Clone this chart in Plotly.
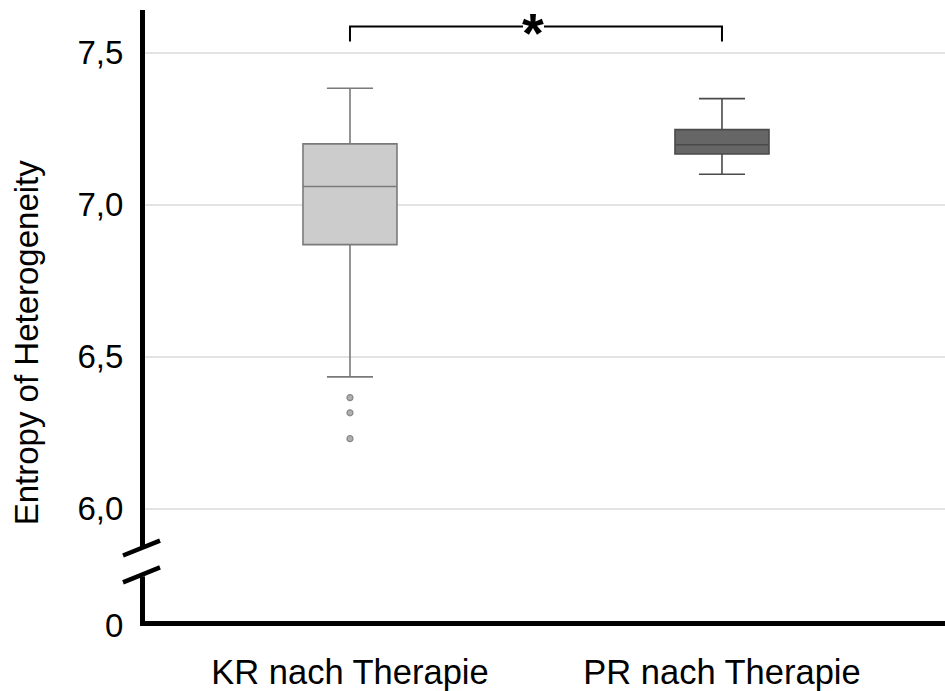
import plotly.graph_objects as go

# ---------------- data ----------------
categories = ["KR nach Therapie", "PR nach Therapie"]
lower_whisker = [6.434, 7.100]
q1_values = [6.869, 7.167]
medians = [7.060, 7.197]
q3_values = [7.200, 7.247]
upper_whisker = [7.383, 7.349]
kr_outliers = [6.366, 6.316, 6.231]

y_tick_values = [6.0, 6.5, 7.0, 7.5]
y_tick_labels = ["6,0", "6,5", "7,0", "7,5"]
break_label = "0"

bracket_low = 7.537
bracket_high = 7.586

box_fills = ["#cccccc", "#666666"]
box_lines = ["#7a7a7a", "#4a4a4a"]

# ---------------- figure ----------------
FONT = "Liberation Sans, Arial, sans-serif"
fig = go.Figure()

for i, cat in enumerate(categories):
    fig.add_trace(go.Box(
        x=[cat],
        q1=[q1_values[i]], median=[medians[i]], q3=[q3_values[i]],
        lowerfence=[lower_whisker[i]], upperfence=[upper_whisker[i]],
        fillcolor=box_fills[i],
        line=dict(color=box_lines[i], width=1.6),
        width=0.2527, whiskerwidth=0.49,
        boxpoints=False, showlegend=False, hoverinfo="skip",
    ))

fig.add_trace(go.Scatter(
    x=[categories[0]] * len(kr_outliers), y=kr_outliers,
    mode="markers",
    marker=dict(symbol="circle", size=6, color="#b0b0b0",
                line=dict(color="#888888", width=1.2)),
    showlegend=False, hoverinfo="skip",
))

# significance bracket
fig.add_trace(go.Scatter(
    x=[categories[0], categories[0], categories[1], categories[1]],
    y=[bracket_low, bracket_high, bracket_high, bracket_low],
    mode="lines", line=dict(color="black", width=2),
    showlegend=False, hoverinfo="skip",
))

W, H = 945, 691
L, R, T, B = 145, 0, 10, 65
pw, ph = W - L - R, H - T - B
# 7.5 -> 53 px, 6.0 -> 513 px
PPU = (513 - 53) / 1.5
Y_MAX = 7.5 + (53 - T) / PPU
Y_MIN = 7.5 - ((H - B) - 53) / PPU


def px_x(p):
    return (p - L) / pw


def px_y(p):
    return (H - B - p) / ph


# asterisk
fig.add_annotation(
    x=0.5, xref="x", y=bracket_high, yref="y",
    text="<b>*</b>", showarrow=False,
    font=dict(family=FONT, size=56, color="black"),
    xanchor="center", yanchor="middle", yshift=-6, xshift=-3,
)

# y-axis title
fig.add_annotation(
    x=px_x(26), xref="paper", y=px_y(345), yref="paper",
    text="Entropy of Heterogeneity", textangle=-90, showarrow=False,
    font=dict(family=FONT, size=33, color="black"),
    xanchor="center", yanchor="middle",
)

# "0" label below the axis break
fig.add_annotation(
    x=0, xref="paper", y=Y_MIN, yref="y",
    text=break_label, showarrow=False,
    font=dict(family=FONT, size=33, color="black"),
    xanchor="right", yanchor="middle", xshift=-20, yshift=-4,
)

# axis break + patch behind asterisk
shapes = [
    dict(type="rect", xref="paper", yref="paper",
         x0=px_x(130), x1=px_x(155), y0=px_y(581), y1=px_y(551),
         fillcolor="white", line=dict(width=0), layer="above"),
    dict(type="line", xref="paper", yref="paper",
         x0=px_x(123), y0=px_y(560), x1=px_x(160), y1=px_y(545),
         line=dict(color="black", width=4.5), layer="above"),
    dict(type="line", xref="paper", yref="paper",
         x0=px_x(123), y0=px_y(587), x1=px_x(160), y1=px_y(572),
         line=dict(color="black", width=4.5), layer="above"),
    dict(type="rect", xref="paper", yref="paper",
         x0=px_x(523), x1=px_x(544), y0=px_y(40), y1=px_y(14),
         fillcolor="white", line=dict(width=0), layer="above"),
]

fig.update_layout(
    width=W, height=H,
    margin=dict(l=L, r=R, t=T, b=B, pad=0),
    paper_bgcolor="white", plot_bgcolor="white",
    font=dict(family=FONT, color="black"),
    shapes=shapes,
    xaxis=dict(
        type="category", range=[-0.551, 1.5995],
        showline=True, linecolor="black", linewidth=5,
        showgrid=False, zeroline=False, ticks="",
        tickfont=dict(family=FONT, size=34.5, color="black"),
        ticklabelstandoff=17,
    ),
    yaxis=dict(
        range=[Y_MIN, Y_MAX],
        tickvals=y_tick_values, ticktext=y_tick_labels,
        showline=True, linecolor="black", linewidth=5,
        showgrid=True, gridcolor="#e3e3e3", gridwidth=2,
        zeroline=False, ticks="",
        tickfont=dict(family=FONT, size=33, color="black"),
        ticklabelstandoff=10,
    ),
)

fig.write_html("out.html")
